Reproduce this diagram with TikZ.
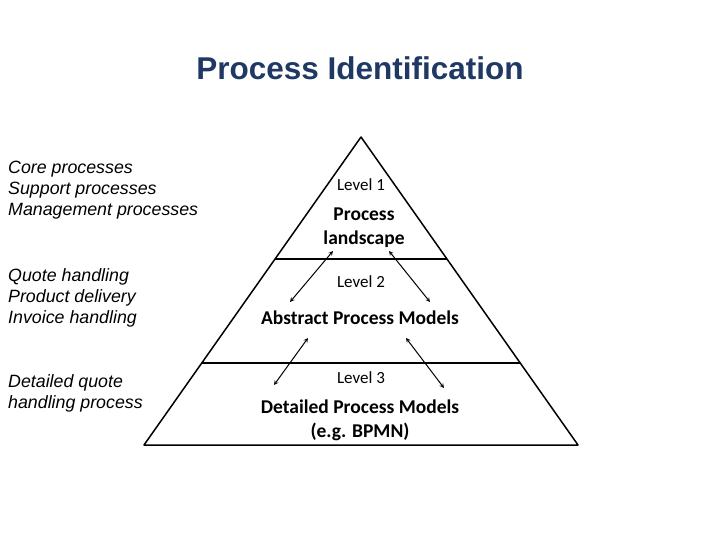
\documentclass[tikz,border=0pt]{standalone}
\usepackage{fontspec}
\setmainfont{Liberation Sans}
\newfontfamily\carlitofont{Carlito}
\definecolor{titleblue}{RGB}{31,56,100}
\begin{document}
\begin{tikzpicture}[x=1pt,y=-1pt,
  side/.style={font=\itshape\fontsize{17.8}{21}\selectfont,align=left,anchor=north west,inner sep=0},
  lvl/.style={font=\carlitofont\fontsize{17}{18}\selectfont,inner sep=0},
  big/.style={font=\carlitofont\bfseries\fontsize{19.5}{24}\selectfont,align=center,inner sep=0},
  dbl/.style={<->,>=stealth,line width=1pt}]
\useasboundingbox (0,0) rectangle (720,540);
\node[font=\bfseries\fontsize{31.5}{36}\selectfont,text=titleblue] (title) at (360,68) {Process Identification};
\coordinate (apex) at (361,137);
\coordinate (bl) at (144,445);
\coordinate (br) at (578,445);
\draw[line width=1.5pt,line join=round] (apex) -- (bl) -- (br) -- cycle;
\coordinate (l1a) at (275,259); \coordinate (l1b) at (447,259);
\coordinate (l2a) at (202,363); \coordinate (l2b) at (520,363);
\draw[line width=1.5pt] (l1a) -- (l1b);
\draw[line width=1.5pt] (l2a) -- (l2b);
\node[lvl] (lv1) at (361,185) {Level 1};
\node[big] (pl) at (364,228) {Process\\landscape};
\node[lvl] (lv2) at (361,282) {Level 2};
\node[big] (apm) at (360,318) {Abstract Process Models};
\node[lvl] (lv3) at (361,378) {Level 3};
\node[big] (dpm) at (360,420) {Detailed Process Models\\(e.g. BPMN)};
\coordinate (a1s) at (333,251); \coordinate (a1e) at (290,302);
\coordinate (a2s) at (389,251); \coordinate (a2e) at (430,302);
\coordinate (a3s) at (308,338); \coordinate (a3e) at (274,385);
\coordinate (a4s) at (406,338); \coordinate (a4e) at (444,388);
\draw[dbl] (a1s) -- (a1e);
\draw[dbl] (a2s) -- (a2e);
\draw[dbl] (a3s) -- (a3e);
\draw[dbl] (a4s) -- (a4e);
\node[side] (t1) at (8,161) {Core processes\\Support processes\\Management processes};
\node[side] (t2) at (8,268) {Quote handling\\Product delivery\\Invoice handling};
\node[side] (t3) at (8,374) {Detailed quote\\handling process};
\end{tikzpicture}
\end{document}
